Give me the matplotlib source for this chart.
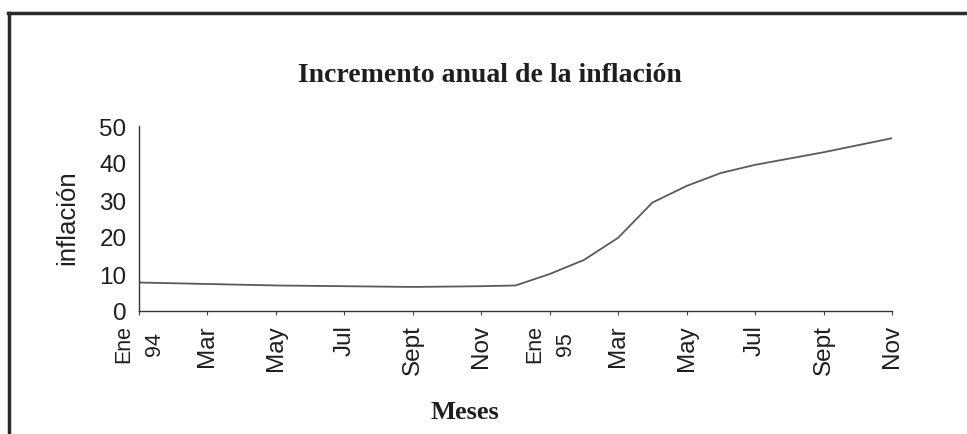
import matplotlib
matplotlib.use("Agg")
import matplotlib.pyplot as plt
from matplotlib.lines import Line2D
import numpy as np

# monthly inflation, Ene 94 .. Nov 95
meses = ["Ene\n94", "Feb", "Mar", "Abr", "May", "Jun", "Jul", "Ago", "Sept", "Oct", "Nov", "Dic",
         "Ene\n95", "Feb", "Mar", "Abr", "May", "Jun", "Jul", "Ago", "Sept", "Oct", "Nov"]
inflacion = [7.7, 7.5, 7.3, 7.1, 6.9, 6.8, 6.7, 6.6, 6.5, 6.6, 6.7, 6.9,
             10.0, 13.8, 19.8, 29.3, 33.8, 37.3, 39.5, 41.2, 42.9, 44.8, 46.7]
yticks = [0, 10, 20, 30, 40, 50]

sans = "Liberation Sans"
serif = "Liberation Serif"
txt = "#1e1e1e"

fig = plt.figure(figsize=(9.67, 4.35), dpi=100)
ax = fig.add_axes([139/967, 1-312/435, (892-139)/967, (312-127)/435])

x = np.arange(len(inflacion))
ax.plot(x, inflacion, color="#5a5a5a", lw=1.3)

ax.set_xlim(0, len(inflacion)-1)
ax.set_ylim(0, 50)
ax.set_yticks(yticks)
ax.set_yticklabels([str(v) for v in yticks], fontsize=17.5, family=sans, color=txt)

pos = x[::2]
ax.set_xticks(pos)
ax.set_xticklabels([meses[i] for i in pos], rotation=90, family=sans, color=txt,
                   fontsize=17.5, va="top", ha="center", multialignment="center")
for lab in ax.get_xticklabels():
    if "\n" in lab.get_text():
        lab.set_fontsize(15.5)
        lab.set_linespacing(1.6)

ax.tick_params(axis="y", length=0, pad=9)
ax.tick_params(axis="x", length=3, width=0.8, color="#444444", pad=6.5)

for s in ["top", "right"]:
    ax.spines[s].set_visible(False)
for s in ["left", "bottom"]:
    ax.spines[s].set_color("#333333")
    ax.spines[s].set_linewidth(1.0)

fig.text(490/967, 1-75/435, "Incremento anual de la inflación", family=serif,
         weight="bold", fontsize=20, ha="center", va="center", color=txt)
fig.text(465/967, 1-413/435, "Meses", family=serif, weight="bold", fontsize=19,
         ha="center", va="center", color=txt)
fig.text(67/967, 1-218/435, "inflación", family=sans, fontsize=18.5, rotation=90,
         ha="center", va="center", color=txt)

# scanned frame: top and left edges
fig.add_artist(Line2D([8/967, 1], [1-14/435, 1-14/435], color="#2a2a2a", lw=2.5,
                      transform=fig.transFigure))
fig.add_artist(Line2D([9/967, 9/967], [0, 1-14/435], color="#2a2a2a", lw=2.5,
                      transform=fig.transFigure))

fig.savefig("out.png", dpi=100)
